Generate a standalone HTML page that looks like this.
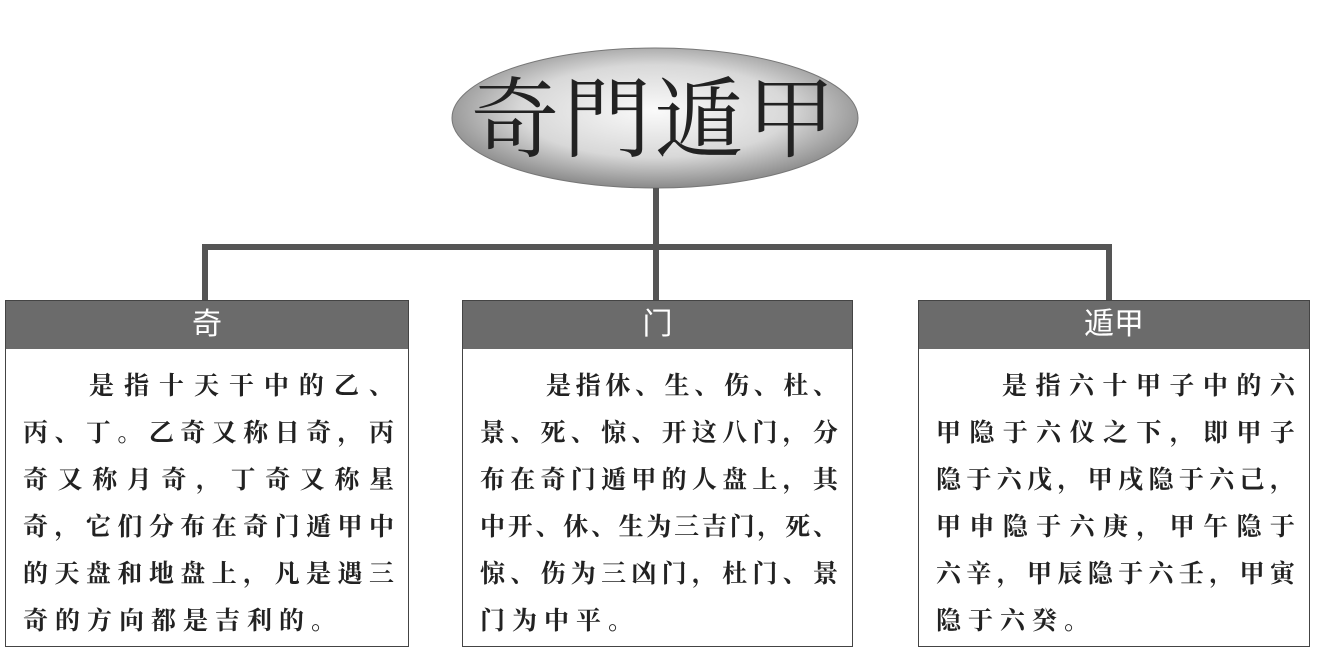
<!DOCTYPE html>
<html><head><meta charset="utf-8"><style>
body{margin:0;width:1318px;height:659px;background:#fff;position:relative;overflow:hidden;font-family:"Liberation Serif","Noto Serif CJK SC",serif}
.ln{position:absolute;background:#555}
.box{position:absolute;top:300px;height:347px;border:1px solid #444;box-sizing:border-box;background:#fff}
.hd{height:48px;background:#6b6b6b;color:#fff;text-align:center;font:30px/48px "Liberation Sans","Noto Sans CJK SC",sans-serif}
.tx{position:absolute;left:17px;right:14px;top:62px;font-size:25px;font-weight:bold;color:#222}
.tx div{height:47px;line-height:47px;text-align:justify;text-align-last:justify;white-space:nowrap;display:flex;justify-content:space-between}
</style></head><body>
<svg width="1318" height="240" style="position:absolute;left:0;top:0">
<defs><radialGradient id="g" cx="50%" cy="45%" r="55%"><stop offset="0" stop-color="#fafafa"/><stop offset="0.6" stop-color="#d8d8d8"/><stop offset="1" stop-color="#8a8a8a"/></radialGradient></defs>
<ellipse cx="655" cy="118" rx="203" ry="70" fill="url(#g)" stroke="#777" stroke-width="1"/>
<text x="655" y="150" text-anchor="middle" font-family="Noto Serif CJK SC, serif" font-size="88" fill="#222" letter-spacing="4">奇門遁甲</text>
</svg>
<div class="ln" style="left:653px;top:188px;width:6px;height:113px"></div>
<div class="ln" style="left:202px;top:244px;width:910px;height:6px"></div>
<div class="ln" style="left:202px;top:244px;width:6px;height:57px"></div>
<div class="ln" style="left:1106px;top:244px;width:6px;height:57px"></div>

<div class="box" style="left:5px;width:404px"><div class="hd">奇</div>
<div class="tx">
<div style="margin-left:66px"><span>是</span><span>指</span><span>十</span><span>天</span><span>干</span><span>中</span><span>的</span><span>乙</span><span>、</span></div>
<div><span>丙</span><span>、</span><span>丁</span><span>。</span><span>乙</span><span>奇</span><span>又</span><span>称</span><span>日</span><span>奇</span><span>，</span><span>丙</span></div>
<div><span>奇</span><span>又</span><span>称</span><span>月</span><span>奇</span><span>，</span><span>丁</span><span>奇</span><span>又</span><span>称</span><span>星</span></div>
<div><span>奇</span><span>，</span><span>它</span><span>们</span><span>分</span><span>布</span><span>在</span><span>奇</span><span>门</span><span>遁</span><span>甲</span><span>中</span></div>
<div><span>的</span><span>天</span><span>盘</span><span>和</span><span>地</span><span>盘</span><span>上</span><span>，</span><span>凡</span><span>是</span><span>遇</span><span>三</span></div>
<div style="justify-content:flex-start;letter-spacing:7px">奇的方向都是吉利的。</div>
</div></div>

<div class="box" style="left:462px;width:391px"><div class="hd">门</div>
<div class="tx">
<div style="margin-left:66px"><span>是</span><span>指</span><span>休</span><span>、</span><span>生</span><span>、</span><span>伤</span><span>、</span><span>杜</span><span>、</span></div>
<div><span>景</span><span>、</span><span>死</span><span>、</span><span>惊</span><span>、</span><span>开</span><span>这</span><span>八</span><span>门</span><span>，</span><span>分</span></div>
<div><span>布</span><span>在</span><span>奇</span><span>门</span><span>遁</span><span>甲</span><span>的</span><span>人</span><span>盘</span><span>上</span><span>，</span><span>其</span></div>
<div><span>中</span><span>开</span><span>、</span><span>休</span><span>、</span><span>生</span><span>为</span><span>三</span><span>吉</span><span>门</span><span>，</span><span>死</span><span>、</span></div>
<div><span>惊</span><span>、</span><span>伤</span><span>为</span><span>三</span><span>凶</span><span>门</span><span>，</span><span>杜</span><span>门</span><span>、</span><span>景</span></div>
<div style="justify-content:flex-start;letter-spacing:7px">门为中平。</div>
</div></div>

<div class="box" style="left:918px;width:392px"><div class="hd">遁甲</div>
<div class="tx">
<div style="margin-left:66px"><span>是</span><span>指</span><span>六</span><span>十</span><span>甲</span><span>子</span><span>中</span><span>的</span><span>六</span></div>
<div><span>甲</span><span>隐</span><span>于</span><span>六</span><span>仪</span><span>之</span><span>下</span><span>，</span><span>即</span><span>甲</span><span>子</span></div>
<div><span>隐</span><span>于</span><span>六</span><span>戊</span><span>，</span><span>甲</span><span>戌</span><span>隐</span><span>于</span><span>六</span><span>己</span><span>，</span></div>
<div><span>甲</span><span>申</span><span>隐</span><span>于</span><span>六</span><span>庚</span><span>，</span><span>甲</span><span>午</span><span>隐</span><span>于</span></div>
<div><span>六</span><span>辛</span><span>，</span><span>甲</span><span>辰</span><span>隐</span><span>于</span><span>六</span><span>壬</span><span>，</span><span>甲</span><span>寅</span></div>
<div style="justify-content:flex-start;letter-spacing:7px">隐于六癸。</div>
</div></div>
</body></html>
